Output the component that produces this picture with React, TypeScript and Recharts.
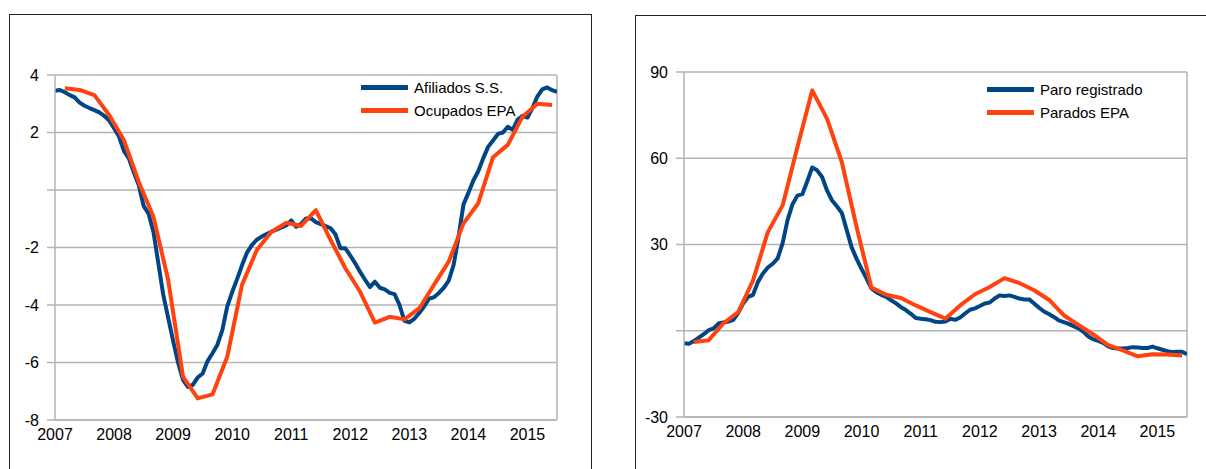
import React from "react"
import { CartesianGrid, Legend, Line, LineChart, ReferenceLine, XAxis, YAxis } from "recharts"

// x axis
const years = [2007, 2008, 2009, 2010, 2011, 2012, 2013, 2014, 2015]

// left chart: monthly from Jan 2007
const afiliados = [
  3.45, 3.48, 3.4, 3.3, 3.22, 3.04, 2.93, 2.85, 2.78, 2.7, 2.58, 2.42,
  2.15, 1.86, 1.36, 1.1, 0.62, 0.18, -0.55, -0.82, -1.45, -2.55, -3.65, -4.45,
  -5.25, -6.0, -6.6, -6.85, -6.78, -6.52, -6.38, -5.95, -5.68, -5.38, -4.87, -4.05,
  -3.55, -3.1, -2.62, -2.18, -1.92, -1.73, -1.62, -1.53, -1.45, -1.38, -1.3, -1.23,
  -1.06, -1.28, -1.18, -0.99, -0.99, -1.12, -1.19, -1.26, -1.33, -1.55, -2.03, -2.03,
  -2.28, -2.55, -2.85, -3.12, -3.38, -3.19, -3.4, -3.46, -3.58, -3.62, -4.0, -4.55,
  -4.6, -4.48, -4.28, -4.05, -3.78, -3.73, -3.58, -3.4, -3.15, -2.6, -1.62, -0.5,
  -0.1, 0.33, 0.65, 1.1, 1.5, 1.72, 1.95, 2.0, 2.2, 2.09, 2.45, 2.58,
  2.52, 2.85, 3.25, 3.5, 3.57, 3.47, 3.41,
]
// left chart: quarterly
const ocupadosEpa = [
  3.54, 3.48, 3.3, 2.61, 1.74, 0.29, -0.93, -3.13, -6.49, -7.25, -7.11, -5.8,
  -3.3, -2.09, -1.45, -1.14, -1.25, -0.7, -1.74, -2.72, -3.54, -4.61, -4.41, -4.5,
  -4.12, -3.3, -2.49, -1.16, -0.46, 1.14, 1.57, 2.55, 3.0, 2.96,
]

// right chart: monthly from Jan 2007
const paroRegistrado = [
  -4.3, -4.5, -3.6, -2.4, -1.2, 0.2, 0.8, 2.5, 2.9, 3.2, 3.8, 6.2,
  9.5, 11.8, 12.5, 17.0, 19.9, 22.0, 23.3, 25.2, 30.5, 38.5, 44.0, 47.0,
  47.5, 52.0, 56.8, 55.8, 53.5, 48.8, 45.4, 43.3, 41.0, 35.0, 29.0, 25.0,
  21.5, 18.2, 14.7, 13.4, 12.5, 11.8, 10.6, 9.5, 8.2, 7.2, 5.9, 4.4,
  4.2, 4.0, 3.7, 3.1, 3.0, 3.2, 4.2, 3.8, 4.6, 6.0, 7.3, 7.8,
  8.6, 9.5, 9.8, 11.2, 12.3, 12.1, 12.3, 11.8, 11.2, 10.9, 10.9, 9.5,
  8.0, 6.7, 5.8, 4.8, 3.6, 3.0, 2.4, 1.6, 0.8, -0.4, -2.0, -3.0,
  -3.5, -4.2, -5.4, -6.0, -6.2, -6.2, -6.0, -5.7, -5.8, -6.0, -6.0, -5.5,
  -6.1, -6.6, -7.1, -7.4, -7.3, -7.3, -8.2,
]
// right chart: quarterly
const paradosEpa = [
  -3.9, -3.3, 2.6, 6.5, 17.5, 34.3, 43.6, 63.9, 83.6, 73.8, 58.7, 36.1,
  15.0, 12.5, 11.4, 8.8, 6.5, 4.2, 8.8, 12.7, 15.2, 18.3, 16.6, 14.1,
  10.8, 5.4, 2.0, -1.3, -5.0, -6.8, -8.9, -8.2, -8.3, -8.6,
]

const leftTicks = [-8, -6, -4, -2, 0, 2, 4]
const rightTicks = [-30, 0, 30, 60, 90]

const monthly = (vals: number[]) => vals.map((v, i) => ({ x: 2007 + i / 12, v }))
const quarterly = (vals: number[]) => vals.map((v, i) => ({ x: 2007 + 2 / 12 + i / 4, v }))

const FONT = "'Liberation Sans', Arial, sans-serif"
const BLUE = "#004586"
const ORANGE = "#ff420e"
const GRID = "#b3b3b3"

function LegendBox(props: any) {
  const order: string[] = props.order || []
  const items = [...(props.payload || [])].sort(
    (a: any, b: any) => order.indexOf(a.value) - order.indexOf(b.value)
  )
  return (
    <div style={{ fontFamily: FONT, fontSize: 15, color: "#000" }}>
      {items.map((it: any) => (
        <div key={it.value} style={{ display: "flex", alignItems: "center", height: 23 }}>
          <span style={{ display: "inline-block", width: 47, height: 5, background: it.color, marginRight: 6 }} />
          <span>{it.value}</span>
        </div>
      ))}
    </div>
  )
}

type PanelProps = {
  width: number
  height: number
  margin: { top: number; right: number; bottom: number; left: number }
  yWidth: number
  domain: [number, number]
  ticks: number[]
  blue: { x: number; v: number }[]
  orange: { x: number; v: number }[]
  blueName: string
  orangeName: string
  legendPos: { left: number; top: number }
}

function Panel(p: PanelProps) {
  return (
    <LineChart width={p.width} height={p.height} margin={p.margin}>
      <CartesianGrid vertical={false} stroke={GRID} strokeWidth={1.5} />
      <XAxis
        dataKey="x"
        type="number"
        domain={[2007, 2015.5]}
        ticks={years}
        allowDataOverflow
        height={30}
        tickLine={false}
        tickSize={0}
        tickMargin={9}
        axisLine={{ stroke: GRID, strokeWidth: 1.5 }}
        tick={{ fill: "#000", fontSize: 16, fontFamily: FONT }}
        interval={0}
      />
      <YAxis
        type="number"
        domain={p.domain}
        ticks={p.ticks}
        width={p.yWidth}
        tickSize={8}
        tickMargin={8}
        tickLine={{ stroke: GRID, strokeWidth: 1.5 }}
        axisLine={{ stroke: GRID, strokeWidth: 1.5 }}
        tick={{ fill: "#000", fontSize: 16, fontFamily: FONT }}
        tickFormatter={(v: number) => (v === 0 ? "" : `${v}`)}
        interval={0}
      />
      <ReferenceLine x={2015.5} stroke={GRID} strokeWidth={1.5} />
      <Legend
        layout="vertical"
        align="center"
        verticalAlign="middle"
        content={(props: any) => <LegendBox {...props} order={[p.blueName, p.orangeName]} />}
        wrapperStyle={{ left: p.legendPos.left, top: p.legendPos.top, width: 220 }}
      />
      <Line
        data={p.blue}
        dataKey="v"
        name={p.blueName}
        type="linear"
        stroke={BLUE}
        strokeWidth={4}
        dot={false}
        strokeLinejoin="round"
        isAnimationActive={false}
      />
      <Line
        data={p.orange}
        dataKey="v"
        name={p.orangeName}
        type="linear"
        stroke={ORANGE}
        strokeWidth={4}
        dot={false}
        strokeLinejoin="round"
        isAnimationActive={false}
      />
    </LineChart>
  )
}

export default function App() {
  return (
    <div style={{ position: "absolute", left: 0, top: 0, width: 1206, height: 469, overflow: "hidden", background: "#fff" }}>
      <div style={{ position: "absolute", left: 9, top: 14, width: 583, height: 480, border: "1px solid #222", boxSizing: "border-box" }} />
      <div style={{ position: "absolute", left: 635, top: 15, width: 600, height: 480, border: "1px solid #222", boxSizing: "border-box" }} />
      <div style={{ position: "absolute", left: 0, top: 0 }}>
        <Panel
          width={600}
          height={469}
          margin={{ top: 75, right: 43, bottom: 19, left: 0 }}
          yWidth={55}
          domain={[-8, 4]}
          ticks={leftTicks}
          blue={monthly(afiliados)}
          orange={quarterly(ocupadosEpa)}
          blueName="Afiliados S.S."
          orangeName="Ocupados EPA"
          legendPos={{ left: 361, top: 76 }}
        />
      </div>
      <div style={{ position: "absolute", left: 620, top: 0 }}>
        <Panel
          width={586}
          height={469}
          margin={{ top: 72, right: 19, bottom: 22, left: 0 }}
          yWidth={64}
          domain={[-30, 90]}
          ticks={rightTicks}
          blue={monthly(paroRegistrado)}
          orange={quarterly(paradosEpa)}
          blueName="Paro registrado"
          orangeName="Parados EPA"
          legendPos={{ left: 367, top: 78 }}
        />
      </div>
    </div>
  )
}
